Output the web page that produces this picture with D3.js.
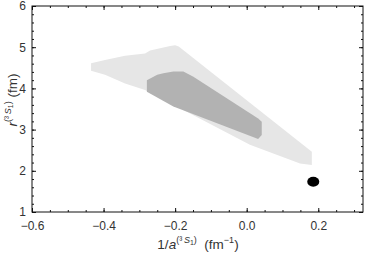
<!DOCTYPE html>
<html>
<head>
<meta charset="utf-8">
<script src="https://cdn.jsdelivr.net/npm/d3@7"></script>
<style>
  body { margin: 0; background: #fff; }
  text { font-family: "Liberation Sans", Arial, sans-serif; }
</style>
</head>
<body>
<div id="chart-area"></div>
<script>
// outer (light) confidence region, [1/a, r]
let lightRegion = [
    [-0.435, 4.61], [-0.396, 4.69], [-0.340, 4.79], [-0.284, 4.85],
    [-0.270, 4.92], [-0.214, 5.03], [-0.200, 5.05], [-0.190, 5.02],
    [0.182, 2.46], [0.182, 2.14], [0.149, 2.18], [0.009, 2.63],
    [-0.284, 3.96], [-0.340, 4.12], [-0.396, 4.33], [-0.435, 4.43]
];

// inner (dark) region
let darkRegion = [
    [-0.279, 4.20], [-0.250, 4.33], [-0.233, 4.37], [-0.205, 4.41],
    [-0.177, 4.41], [-0.149, 4.28], [0.032, 3.27], [0.042, 3.19],
    [0.042, 2.87], [0.032, 2.77], [-0.205, 3.56], [-0.279, 3.92]
];

// single point estimate
let pointX = [0.186];
let pointY = [1.735];

let xTicks = [-0.6, -0.4, -0.2, 0.0, 0.2];
let yTicks = [1, 2, 3, 4, 5, 6];

let margin = { left: 32, right: 3, top: 6, bottom: 42 };
let width = 366 - margin.left - margin.right,
    height = 254 - margin.top - margin.bottom;

let svg = d3.select("#chart-area")
    .append("svg")
    .attr("width", 366)
    .attr("height", 254);

let g = svg.append("g")
    .attr("transform", "translate(" + margin.left + "," + margin.top + ")");

let x = d3.scaleLinear().domain([-0.6, 0.325]).range([0, width]);
let y = d3.scaleLinear().domain([1, 6]).range([height, 0]);

let line = d3.line()
    .x(function(d) { return x(d[0]); })
    .y(function(d) { return y(d[1]); })
    .curve(d3.curveLinearClosed);

g.append("path")
    .attr("d", line(lightRegion))
    .attr("fill", "#e6e6e6");

g.append("path")
    .attr("d", line(darkRegion))
    .attr("fill", "#b2b2b2");

g.selectAll("ellipse")
    .data(pointX)
    .enter()
    .append("ellipse")
    .attr("cx", function(d) { return x(d); })
    .attr("cy", function(d, i) { return y(pointY[i]); })
    .attr("rx", x(0.0168) - x(0))
    .attr("ry", y(1) - y(1.121))
    .attr("fill", "#000");

// minor ticks
let xMinor = d3.range(-0.6, 0.33, 0.05);
let yMinor = d3.range(1, 6.01, 0.2);
function minor(axis, vals) {
    return axis.tickValues(vals).tickSize(-2).tickFormat("");
}
g.append("g").attr("class", "minor").attr("transform", "translate(0," + height + ")")
    .call(minor(d3.axisBottom(x), xMinor));
g.append("g").attr("class", "minor")
    .call(minor(d3.axisTop(x), xMinor));
g.append("g").attr("class", "minor")
    .call(minor(d3.axisLeft(y), yMinor));
g.append("g").attr("class", "minor").attr("transform", "translate(" + width + ",0)")
    .call(minor(d3.axisRight(y), yMinor));

// major ticks
let fmt = function(d) { return d3.format(".1f")(d).replace("-", "\u2212"); };
g.append("g").attr("class", "x axis").attr("transform", "translate(0," + height + ")")
    .call(d3.axisBottom(x).tickValues(xTicks).tickSize(-4).tickPadding(9).tickFormat(fmt));
g.append("g").attr("class", "x axis")
    .call(d3.axisTop(x).tickValues(xTicks).tickSize(-4).tickFormat(""));
g.append("g").attr("class", "y axis")
    .call(d3.axisLeft(y).tickValues(yTicks).tickSize(-4).tickPadding(6).tickFormat(d3.format("d")));
g.append("g").attr("class", "y axis").attr("transform", "translate(" + width + ",0)")
    .call(d3.axisRight(y).tickValues(yTicks).tickSize(-4).tickFormat(""));

g.selectAll(".domain").remove();
g.selectAll(".tick line").attr("stroke", "#111");
g.selectAll(".tick text").attr("font-size", "12px").attr("fill", "#333");

g.append("rect")
    .attr("width", width)
    .attr("height", height)
    .attr("fill", "none")
    .attr("stroke", "#111")
    .attr("stroke-width", 1);

// X Label
let xl = svg.append("text")
    .attr("x", 198)
    .attr("y", 249)
    .attr("font-size", "13.5px")
    .attr("fill", "#333")
    .attr("text-anchor", "middle");
xl.append("tspan").text("1/");
xl.append("tspan").attr("font-style", "italic").text("a");
xl.append("tspan").attr("font-size", "9px").attr("dy", -6).text("(\u00b3\u2009");
xl.append("tspan").attr("font-size", "9px").attr("font-style", "italic").text("S");
xl.append("tspan").attr("font-size", "7px").attr("dy", 2).text("1");
xl.append("tspan").attr("font-size", "9px").attr("dy", -2).text(")");
xl.append("tspan").attr("dy", 6).text("\u00a0\u00a0(fm");
xl.append("tspan").attr("font-size", "9px").attr("dy", -6).text("\u22121");
xl.append("tspan").attr("dy", 6).text(")");

// Y Label
let yl = svg.append("text")
    .attr("transform", "translate(17,100) rotate(-90)")
    .attr("font-size", "13.5px")
    .attr("fill", "#333")
    .attr("text-anchor", "middle");
yl.append("tspan").attr("font-style", "italic").text("r");
yl.append("tspan").attr("font-size", "9px").attr("dy", -6).text("(\u00b3\u2009");
yl.append("tspan").attr("font-size", "9px").attr("font-style", "italic").text("S");
yl.append("tspan").attr("font-size", "7px").attr("dy", 2).text("1");
yl.append("tspan").attr("font-size", "9px").attr("dy", -2).text(")");
yl.append("tspan").attr("dy", 6).text("\u00a0(fm)");
</script>
</body>
</html>
